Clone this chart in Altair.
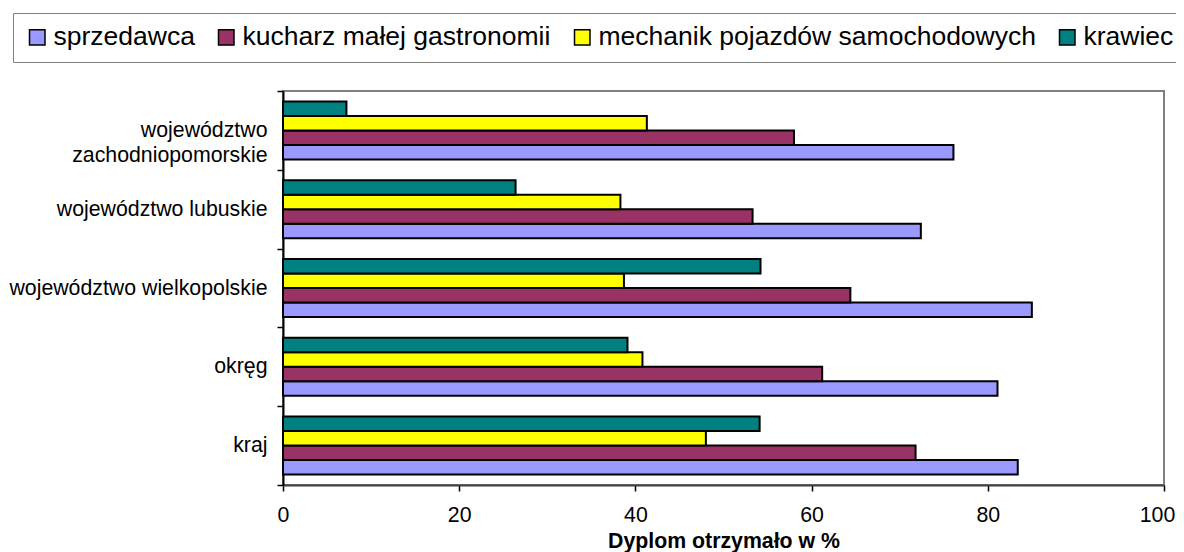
import altair as alt
import pandas as pd

categories = [
    "województwo zachodniopomorskie",
    "województwo lubuskie",
    "województwo wielkopolskie",
    "okręg",
    "kraj",
]
jobs = ["sprzedawca", "kucharz małej gastronomii", "mechanik pojazdów samochodowych", "krawiec"]
sprzedawca = [76.1, 72.4, 85.0, 81.1, 83.4]
kucharz = [58.0, 53.3, 64.4, 61.2, 71.8]
mechanik = [41.3, 38.3, 38.7, 40.8, 48.0]
krawiec = [7.2, 26.4, 54.2, 39.1, 54.1]
colors = ["#9999FF", "#993366", "#FFFF00", "#008080"]
x_ticks = [0, 20, 40, 60, 80, 100]
x_title = "Dyplom otrzymało w %"

rows = []
for job, vals in zip(jobs, [sprzedawca, kucharz, mechanik, krawiec]):
    for cat, v in zip(categories, vals):
        rows.append({"kategoria": cat, "zawod": job, "wartosc": v})
df = pd.DataFrame(rows)

FONT = "Liberation Sans"
NB = "\u00a0" * 6
label_expr = (
    "datum.label == 'województwo zachodniopomorskie' ? "
    "['województwo" + NB + "', 'zachodniopomorskie'] : datum.label"
)

chart = (
    alt.Chart(df)
    .mark_bar(stroke="black", strokeWidth=2)
    .encode(
        x=alt.X(
            "wartosc:Q",
            scale=alt.Scale(domain=[0, 100], nice=False),
            axis=alt.Axis(
                values=x_ticks,
                title=x_title,
                grid=False,
                labelFlush=False,
                labelPadding=13,
                labelOffset={"condition": {"test": "datum.value === 100", "value": -7}, "value": 0},
                titlePadding=5,
                titleFontWeight="bold",
                domainColor="#404040",
            ),
        ),
        y=alt.Y(
            "kategoria:N",
            sort=categories,
            scale=alt.Scale(paddingInner=0, paddingOuter=0),
            axis=alt.Axis(
                title=None,
                tickBand="extent",
                labelExpr=label_expr,
                labelLimit=0,
                labelPadding=10,
                labelLineHeight=25,
                grid=False,
            ),
        ),
        yOffset=alt.YOffset(
            "zawod:N",
            sort=jobs[::-1],
            scale=alt.Scale(paddingInner=0, paddingOuter=0.717),
        ),
        color=alt.Color(
            "zawod:N",
            scale=alt.Scale(domain=jobs, range=colors),
            legend=alt.Legend(
                title=None,
                orient="none",
                legendX=-270,
                legendY=-78,
                direction="horizontal",
                symbolType="square",
                symbolSize=240,
                symbolStrokeColor="black",
                symbolStrokeWidth=1.5,
                labelFont=FONT,
                labelFontSize=26.5,
                labelColor="black",
                labelOffset=3,
                labelLimit=0,
                columnPadding=18,
                padding=11,
                fillColor="white",
                strokeColor="#808080",
            ),
        ),
    )
    .properties(
        width=881,
        height=394,
        autosize=alt.AutoSizeParams(type="none"),
        padding={"left": 275, "top": 83, "right": 12, "bottom": 67},
    )
    .configure_view(stroke="#808080", strokeWidth=2)
    .configure_axis(
        domainColor="black",
        domainWidth=2,
        tickColor="black",
        tickWidth=1.5,
        tickSize=6,
        labelFont=FONT,
        labelFontSize=21.3,
        labelColor="black",
        titleFont=FONT,
        titleFontSize=21.3,
        titleColor="black",
    )
)

chart.save("out.html", embed_options={"renderer": "svg", "actions": False})
